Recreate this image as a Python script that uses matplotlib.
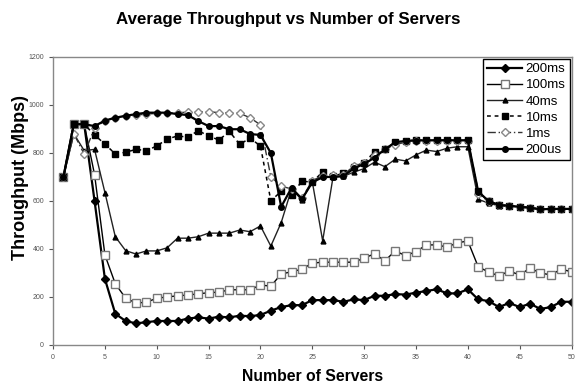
import numpy as np
import matplotlib
matplotlib.use("Agg")
import matplotlib.pyplot as plt

plt.rcParams['font.family'] = ['Liberation Sans', 'DejaVu Sans']

#%% data
servers = list(range(1, 51))

thr_200ms = [700, 920, 920, 600, 275, 130, 100, 90, 95, 100,
             100, 100, 110, 115, 110, 118, 115, 122, 120, 125,
             143, 158, 166, 166, 187, 187, 187, 180, 190, 187,
             205, 205, 212, 210, 218, 225, 232, 215, 215, 232,
             190, 183, 158, 175, 158, 172, 150, 158, 180, 180]

thr_100ms = [700, 920, 920, 710, 375, 255, 195, 175, 178, 195,
             200, 205, 208, 213, 218, 220, 230, 230, 230, 250,
             245, 296, 305, 316, 341, 345, 345, 345, 345, 362,
             380, 351, 392, 372, 389, 417, 417, 408, 426, 433,
             326, 304, 288, 308, 292, 320, 300, 292, 316, 305]

thr_40ms = [700, 880, 810, 815, 635, 451, 393, 379, 392, 392,
            405, 445, 445, 451, 466, 466, 466, 479, 472, 496,
            412, 510, 650, 605, 680, 434, 700, 703, 720, 735,
            762, 743, 774, 767, 792, 812, 806, 820, 826, 826,
            607, 591, 580, 578, 575, 570, 565, 567, 567, 567]

thr_10ms = [700, 920, 920, 875, 837, 796, 803, 815, 810, 829,
            858, 871, 866, 893, 871, 854, 890, 836, 862, 829,
            601, 640, 625, 683, 678, 722, 704, 715, 740, 760,
            805, 815, 845, 852, 853, 853, 853, 853, 853, 853,
            640, 598, 585, 580, 577, 572, 567, 567, 567, 567]

thr_1ms = [700, 880, 795, 904, 935, 946, 955, 958, 962, 965,
           967, 968, 970, 970, 972, 968, 966, 965, 947, 917,
           701, 662, 650, 612, 685, 705, 708, 710, 745, 760,
           790, 815, 835, 845, 852, 852, 852, 852, 852, 852,
           630, 598, 585, 580, 576, 572, 566, 567, 567, 567]

thr_200us = [700, 920, 920, 912, 935, 947, 955, 962, 968, 968,
             968, 962, 958, 933, 912, 912, 899, 899, 879, 875,
             800, 576, 655, 608, 678, 699, 701, 703, 736, 754,
             781, 815, 845, 850, 852, 853, 853, 853, 853, 853,
             639, 600, 583, 580, 576, 572, 565, 567, 567, 567]

#%% plot
fig = plt.figure(figsize=(5.77, 3.84), dpi=100)
ax = fig.add_axes([0.092, 0.1016, 0.8985, 0.75])

ax.plot(servers, thr_200ms, color='black', lw=1.6, marker='D', ms=4.5,
        mfc='black', mec='black', label='200ms')
ax.plot(servers, thr_100ms, color='black', lw=1.0, marker='s', ms=5.5,
        mfc='white', mec='#777777', mew=1.0, label='100ms')
ax.plot(servers, thr_40ms, color='#222222', lw=1.0, marker='^', ms=3.5,
        mfc='black', mec='black', label='40ms')
ax.plot(servers, thr_10ms, color='black', lw=1.1, ls=(0, (2.5, 2.5)), marker='s',
        ms=4.5, mfc='black', mec='black', label='10ms')
ax.plot(servers, thr_1ms, color='#333333', lw=1.0, ls=(0, (6, 2, 1, 2)), marker='D',
        ms=4.5, mfc='white', mec='#888888', mew=1.0, label='1ms')
ax.plot(servers, thr_200us, color='black', lw=1.6, marker='o', ms=4,
        mfc='black', mec='black', label='200us')

ax.set_xlim(0, 50)
ax.set_ylim(0, 1200)
ax.set_xticks(range(0, 51, 5))
ax.set_yticks(range(0, 1201, 200))
ax.tick_params(labelsize=5, colors='#555555', length=3, width=0.8)
for s in ax.spines.values():
    s.set_color('#888888')
    s.set_linewidth(1.0)

ax.set_xlabel('Number of Servers', fontsize=11.3, fontweight='bold')
ax.xaxis.set_label_coords(0.5, -0.084)
ax.set_ylabel('Throughput (Mbps)', fontsize=13, fontweight='bold')
ax.yaxis.set_label_coords(-0.046, 0.58)
fig.suptitle('Average Throughput vs Number of Servers', fontsize=12.2,
             fontweight='bold', y=0.97)

leg = ax.legend(loc='upper right', fontsize=9.5, fancybox=False, framealpha=1,
                edgecolor='black', handlelength=2.6, labelspacing=0.3,
                borderaxespad=0.15, handletextpad=0.3, borderpad=0.3)
leg.get_frame().set_linewidth(1.0)

fig.savefig('out.png', dpi=100)
